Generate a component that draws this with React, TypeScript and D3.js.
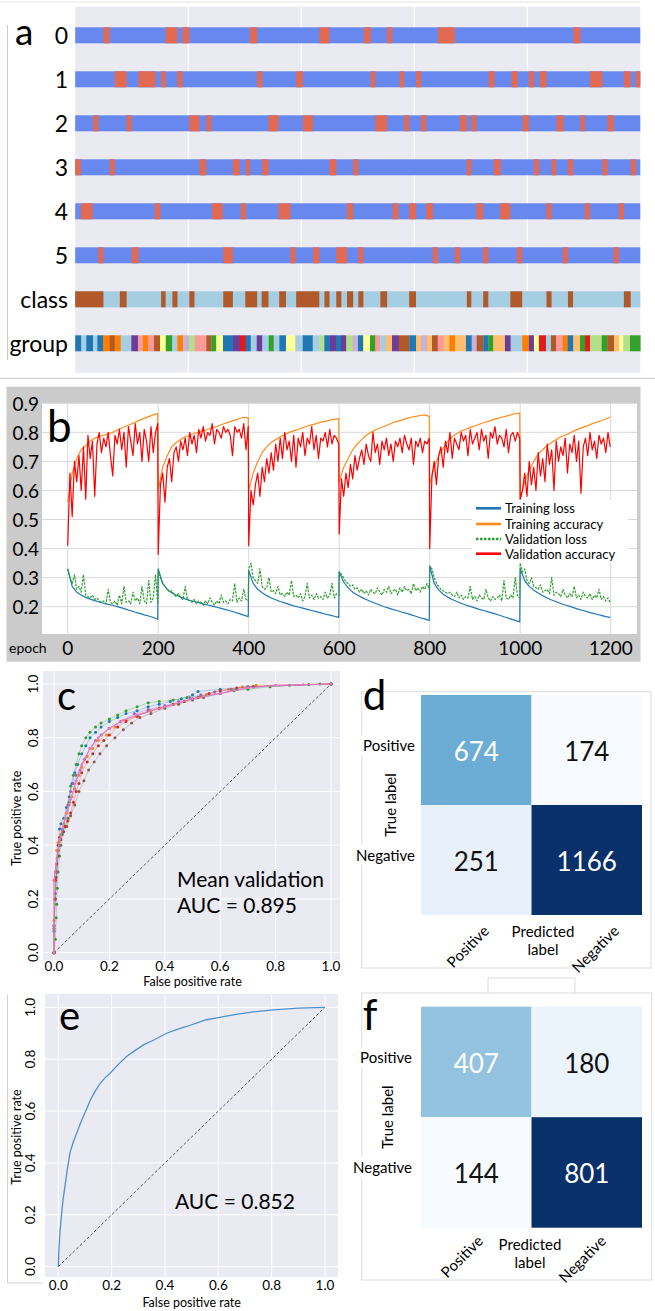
import * as d3 from 'd3'

const FONT = 'Lato, "Open Sans", sans-serif'

// ---------- panel a : CV split indices over samples (0..1000) ----------
const cvRowLabels = ['0', '1', '2', '3', '4', '5', 'class', 'group']
const testSplits = [
  [[50, 61], [160, 181], [190, 202], [309, 322], [432, 450], [511, 523], [552, 561], [642, 672], [882, 894]],
  [[70, 91], [112, 142], [152, 160], [181, 190], [322, 331], [391, 403], [523, 531], [574, 582], [603, 612], [732, 742], [772, 783], [803, 812], [822, 834], [911, 933], [971, 983], [992, 1000]],
  [[32, 41], [91, 100], [202, 220], [232, 241], [342, 360], [403, 421], [531, 552], [582, 591], [612, 621], [681, 693], [701, 710], [792, 803], [852, 864], [894, 902], [942, 953]],
  [[0, 10], [61, 70], [220, 232], [279, 291], [302, 309], [331, 342], [450, 462], [492, 501], [693, 701], [741, 753], [812, 821], [843, 851], [872, 881], [933, 942], [983, 992]],
  [[10, 31], [141, 151], [242, 261], [293, 302], [360, 381], [481, 492], [562, 572], [591, 603], [621, 633], [710, 722], [752, 770], [834, 843], [902, 911], [962, 971]],
  [[41, 50], [100, 112], [262, 279], [381, 390], [421, 432], [462, 481], [501, 510], [633, 642], [672, 681], [722, 731], [782, 791], [863, 872], [953, 962]],
]
const classOne = [[0, 50], [79, 91], [152, 160], [172, 181], [202, 211], [262, 279], [301, 322], [330, 342], [361, 373], [391, 432], [441, 450], [462, 471], [481, 492], [501, 510], [540, 552], [591, 603], [693, 701], [722, 731], [770, 791], [834, 843], [872, 881], [971, 983]]
const groupStarts = [0, 10.8, 19.6, 31.5, 39.1, 49.2, 61.1, 69.9, 80.5, 99.3, 111.1, 120, 128.8, 139.4, 150.1, 160.2, 171.8, 180.7, 190.8, 201.4, 211.5, 232, 240.8, 249.7, 261.5, 279.2, 291.1, 301.7, 310.6, 321.2, 331.1, 342.4, 351.3, 361.2, 373, 389.5, 402.6, 420.3, 432, 440.8, 450.9, 461.5, 470.4, 479.7, 491.1, 500.4, 509.8, 521.7, 531.1, 539.9, 550, 560.6, 572.5, 591.2, 603.1, 611.9, 622.5, 631.4, 641.5, 652.1, 662, 672.1, 691.5, 701.6, 710.5, 722.1, 731, 739.8, 760.5, 770.6, 791.1, 803, 811.8, 820.7, 833.1, 841.9, 850.8, 862.7, 871.5, 881.4, 893.3, 902.1, 911, 931.7, 941.6, 953.4, 962.3, 969.9, 981.8]
const groupColors = ['db', 'lb', 'db', 'lb', 'db', 'o', 'br', 'o', 'lb', 'pu', 'pk', 'o', 'pk', 'br', 'y', 'g', 'lb', 'o', 'lv', 'lg', 'pk', 'br', 'g', 'y', 'db', 'pu', 'r', 'db', 'lb', 'pu', 'lb', 'g', 'lb', 'db', 'y', 'lb', 'db', 'lb', 'lg', 'db', 'pu', 'db', 'pu', 'lg', 'lv', 'db', 'y', 'g', 'pk', 'lb', 'lo', 'pu', 'br', 'db', 'lo', 'lv', 'lo', 'br', 'pk', 'lo', 'o', 'lo', 'db', 'lv', 'br', 'db', 'g', 'lo', 'pu', 'lb', 'o', 'pu', 'y', 'r', 'lb', 'br', 'pk', 'o', 'db', 'lo', 'g', 'r', 'lg', 'g', 'br', 'lo', 'y', 'lg', 'g']
const paired: Record<string, string> = {
  lb: '#a6cee3', db: '#1f78b4', lg: '#b2df8a', g: '#33a02c', pk: '#fb9a99', r: '#e31a1c',
  lo: '#fdbf6f', o: '#ff7f00', lv: '#cab2d6', pu: '#6a3d9a', y: '#ffff99', br: '#b15928',
}

// ---------- panel b : training curves, 6 folds x 200 epochs ----------
const epochTicks = [0, 200, 400, 600, 800, 1000, 1200]
const metricTicks = [0.2, 0.3, 0.4, 0.5, 0.6, 0.7, 0.8, 0.9]
const trainAcc = [
  [0.56, 0.66, 0.71, 0.74, 0.755, 0.77, 0.78, 0.785, 0.79, 0.795, 0.8, 0.808, 0.815, 0.822, 0.828, 0.835, 0.842, 0.848, 0.854, 0.86, 0.865],
  [0.6, 0.68, 0.72, 0.75, 0.765, 0.775, 0.785, 0.79, 0.797, 0.8, 0.805, 0.81, 0.815, 0.82, 0.826, 0.832, 0.837, 0.842, 0.847, 0.852, 0.85],
  [0.6, 0.66, 0.7, 0.73, 0.75, 0.765, 0.775, 0.785, 0.792, 0.8, 0.805, 0.81, 0.816, 0.822, 0.826, 0.83, 0.835, 0.838, 0.842, 0.845, 0.847],
  [0.63, 0.68, 0.71, 0.74, 0.76, 0.775, 0.79, 0.8, 0.808, 0.815, 0.82, 0.827, 0.834, 0.838, 0.843, 0.848, 0.852, 0.855, 0.858, 0.86, 0.855],
  [0.62, 0.68, 0.72, 0.745, 0.77, 0.785, 0.795, 0.805, 0.81, 0.817, 0.822, 0.828, 0.833, 0.838, 0.843, 0.848, 0.852, 0.856, 0.86, 0.864, 0.866],
  [0.57, 0.63, 0.67, 0.7, 0.725, 0.74, 0.755, 0.765, 0.775, 0.785, 0.79, 0.798, 0.805, 0.812, 0.818, 0.823, 0.83, 0.835, 0.84, 0.846, 0.853],
]
const valAcc = [
  [0.41, 0.66, 0.51, 0.7, 0.63, 0.72, 0.6, 0.75, 0.57, 0.79, 0.71, 0.77, 0.58, 0.76, 0.8, 0.73, 0.78, 0.75, 0.8, 0.72, 0.65, 0.79, 0.76, 0.81, 0.74, 0.8, 0.68, 0.82, 0.77, 0.72, 0.83, 0.76, 0.8, 0.7, 0.81, 0.77, 0.7, 0.82, 0.73, 0.8, 0.83],
  [0.38, 0.62, 0.66, 0.56, 0.68, 0.71, 0.63, 0.73, 0.75, 0.7, 0.77, 0.74, 0.78, 0.72, 0.8, 0.76, 0.79, 0.73, 0.81, 0.78, 0.82, 0.77, 0.8, 0.79, 0.83, 0.76, 0.81, 0.8, 0.78, 0.82, 0.8, 0.81, 0.79, 0.72, 0.82, 0.8, 0.81, 0.78, 0.83, 0.74, 0.82],
  [0.41, 0.6, 0.55, 0.62, 0.66, 0.58, 0.68, 0.63, 0.71, 0.66, 0.73, 0.67, 0.76, 0.7, 0.78, 0.71, 0.8, 0.74, 0.77, 0.7, 0.79, 0.68, 0.78, 0.75, 0.8, 0.72, 0.78, 0.76, 0.82, 0.74, 0.79, 0.71, 0.78, 0.77, 0.8, 0.75, 0.81, 0.76, 0.79, 0.78, 0.76],
  [0.45, 0.64, 0.58, 0.66, 0.61, 0.69, 0.64, 0.72, 0.67, 0.71, 0.74, 0.69, 0.76, 0.72, 0.7, 0.8, 0.73, 0.76, 0.69, 0.77, 0.74, 0.78, 0.72, 0.76, 0.7, 0.77, 0.75, 0.78, 0.73, 0.79, 0.76, 0.74, 0.78, 0.69, 0.77, 0.75, 0.78, 0.73, 0.77, 0.76, 0.78],
  [0.4, 0.65, 0.7, 0.62, 0.72, 0.75, 0.68, 0.77, 0.73, 0.8, 0.71, 0.78, 0.76, 0.74, 0.8, 0.77, 0.79, 0.72, 0.81, 0.76, 0.78, 0.8, 0.74, 0.81, 0.77, 0.79, 0.71, 0.8, 0.78, 0.82, 0.76, 0.79, 0.78, 0.75, 0.81, 0.73, 0.79, 0.8, 0.77, 0.8, 0.78],
  [0.57, 0.6, 0.66, 0.58, 0.7, 0.62, 0.68, 0.6, 0.73, 0.65, 0.71, 0.63, 0.76, 0.69, 0.74, 0.6, 0.77, 0.7, 0.75, 0.72, 0.78, 0.66, 0.76, 0.73, 0.79, 0.7, 0.77, 0.59, 0.75, 0.78, 0.72, 0.8, 0.74, 0.77, 0.71, 0.79, 0.76, 0.78, 0.73, 0.8, 0.75],
]
const trainLoss = [
  [0.33, 0.27, 0.25, 0.24, 0.232, 0.226, 0.221, 0.216, 0.212, 0.208, 0.205, 0.2, 0.196, 0.191, 0.186, 0.181, 0.177, 0.172, 0.168, 0.163, 0.157],
  [0.33, 0.28, 0.26, 0.248, 0.24, 0.233, 0.227, 0.222, 0.218, 0.214, 0.21, 0.206, 0.202, 0.198, 0.194, 0.19, 0.186, 0.181, 0.176, 0.171, 0.166],
  [0.325, 0.28, 0.26, 0.248, 0.238, 0.23, 0.224, 0.218, 0.213, 0.208, 0.203, 0.199, 0.195, 0.191, 0.187, 0.183, 0.179, 0.175, 0.171, 0.167, 0.163],
  [0.32, 0.285, 0.265, 0.25, 0.24, 0.232, 0.225, 0.218, 0.212, 0.206, 0.2, 0.195, 0.19, 0.186, 0.181, 0.177, 0.172, 0.167, 0.162, 0.158, 0.153],
  [0.34, 0.28, 0.258, 0.243, 0.233, 0.225, 0.218, 0.212, 0.206, 0.201, 0.196, 0.191, 0.187, 0.182, 0.178, 0.173, 0.168, 0.163, 0.158, 0.153, 0.148],
  [0.33, 0.29, 0.27, 0.257, 0.247, 0.238, 0.23, 0.223, 0.217, 0.211, 0.206, 0.201, 0.196, 0.191, 0.187, 0.182, 0.178, 0.174, 0.17, 0.166, 0.163],
]
const valLoss = [
  [0.33, 0.3, 0.28, 0.31, 0.26, 0.27, 0.25, 0.31, 0.24, 0.235, 0.23, 0.24, 0.225, 0.23, 0.22, 0.215, 0.22, 0.21, 0.26, 0.215, 0.21, 0.22, 0.205, 0.24, 0.21, 0.27, 0.215, 0.22, 0.21, 0.25, 0.22, 0.23, 0.21, 0.27, 0.22, 0.21, 0.29, 0.215, 0.23, 0.31, 0.21],
  [0.32, 0.3, 0.28, 0.27, 0.26, 0.25, 0.255, 0.24, 0.235, 0.245, 0.23, 0.225, 0.27, 0.225, 0.22, 0.215, 0.225, 0.21, 0.22, 0.215, 0.205, 0.22, 0.21, 0.23, 0.215, 0.205, 0.22, 0.21, 0.24, 0.215, 0.22, 0.21, 0.225, 0.22, 0.28, 0.215, 0.23, 0.22, 0.26, 0.225, 0.22],
  [0.33, 0.35, 0.3, 0.29, 0.28, 0.33, 0.27, 0.26, 0.265, 0.3, 0.25, 0.255, 0.245, 0.27, 0.24, 0.245, 0.235, 0.25, 0.24, 0.29, 0.235, 0.24, 0.23, 0.245, 0.22, 0.235, 0.28, 0.23, 0.24, 0.225, 0.245, 0.23, 0.235, 0.225, 0.25, 0.23, 0.24, 0.28, 0.23, 0.245, 0.24],
  [0.32, 0.31, 0.3, 0.285, 0.28, 0.27, 0.275, 0.26, 0.265, 0.25, 0.26, 0.245, 0.255, 0.24, 0.26, 0.25, 0.245, 0.265, 0.25, 0.24, 0.26, 0.25, 0.27, 0.245, 0.255, 0.26, 0.24, 0.265, 0.25, 0.27, 0.255, 0.26, 0.245, 0.28, 0.255, 0.265, 0.25, 0.27, 0.26, 0.28, 0.26],
  [0.34, 0.33, 0.3, 0.28, 0.27, 0.26, 0.255, 0.25, 0.245, 0.25, 0.24, 0.235, 0.25, 0.23, 0.24, 0.225, 0.235, 0.23, 0.27, 0.225, 0.235, 0.22, 0.24, 0.23, 0.225, 0.26, 0.23, 0.22, 0.235, 0.225, 0.23, 0.24, 0.22, 0.29, 0.23, 0.225, 0.24, 0.23, 0.3, 0.235, 0.23],
  [0.35, 0.32, 0.33, 0.29, 0.28, 0.3, 0.27, 0.265, 0.26, 0.275, 0.25, 0.255, 0.26, 0.245, 0.3, 0.24, 0.25, 0.245, 0.235, 0.26, 0.24, 0.23, 0.245, 0.235, 0.27, 0.23, 0.24, 0.225, 0.25, 0.235, 0.23, 0.245, 0.225, 0.24, 0.23, 0.26, 0.225, 0.235, 0.22, 0.23, 0.215],
]
const curveLegend = ['Training loss', 'Training accuracy', 'Validation loss', 'Validation accuracy']
const curveColors = ['#1f77b4', '#ff8c1a', '#2ca02c', '#ff0000']

// ---------- panel c / e : ROC ----------
const rateTicks = [0, 0.2, 0.4, 0.6, 0.8, 1.0]
const rocFolds: number[][][] = [
  [[0, 0], [0, 0.08], [0.005, 0.2], [0.01, 0.3], [0.015, 0.38], [0.02, 0.46], [0.025, 0.48], [0.035, 0.5], [0.045, 0.54], [0.055, 0.58], [0.065, 0.63], [0.075, 0.67], [0.085, 0.7], [0.1, 0.74], [0.115, 0.77], [0.13, 0.8], [0.15, 0.82], [0.17, 0.84], [0.2, 0.86], [0.23, 0.875], [0.26, 0.89], [0.3, 0.9], [0.34, 0.915], [0.38, 0.925], [0.42, 0.935], [0.46, 0.945], [0.5, 0.96], [0.52, 0.972], [0.6, 0.98], [0.7, 0.99], [1, 1]],
  [[0, 0], [0, 0.12], [0, 0.27], [0.005, 0.3], [0.01, 0.38], [0.015, 0.41], [0.025, 0.44], [0.035, 0.48], [0.045, 0.52], [0.055, 0.55], [0.065, 0.58], [0.075, 0.61], [0.09, 0.66], [0.1, 0.69], [0.12, 0.73], [0.14, 0.76], [0.16, 0.79], [0.19, 0.81], [0.22, 0.84], [0.26, 0.865], [0.3, 0.88], [0.35, 0.9], [0.4, 0.915], [0.45, 0.93], [0.5, 0.945], [0.55, 0.96], [0.58, 0.97], [0.63, 0.98], [0.68, 0.99], [0.73, 0.995], [1, 1]],
  [[0, 0], [0.005, 0.05], [0.008, 0.13], [0.01, 0.18], [0.012, 0.24], [0.015, 0.3], [0.02, 0.36], [0.025, 0.4], [0.03, 0.44], [0.04, 0.47], [0.05, 0.5], [0.055, 0.56], [0.06, 0.62], [0.07, 0.66], [0.08, 0.7], [0.09, 0.74], [0.1, 0.77], [0.115, 0.8], [0.13, 0.82], [0.15, 0.84], [0.17, 0.855], [0.2, 0.87], [0.23, 0.885], [0.26, 0.9], [0.3, 0.915], [0.34, 0.93], [0.38, 0.935], [0.43, 0.94], [0.48, 0.95], [0.53, 0.955], [0.6, 0.965], [0.65, 0.975], [0.7, 0.98], [0.78, 0.99], [0.85, 0.995], [0.92, 0.998], [0.96, 1], [1, 1]],
  [[0, 0], [0, 0.1], [0.003, 0.2], [0.006, 0.27], [0.01, 0.33], [0.015, 0.4], [0.02, 0.43], [0.03, 0.45], [0.04, 0.47], [0.05, 0.49], [0.06, 0.52], [0.07, 0.56], [0.08, 0.6], [0.09, 0.63], [0.1, 0.67], [0.12, 0.71], [0.14, 0.74], [0.16, 0.77], [0.18, 0.79], [0.2, 0.81], [0.23, 0.84], [0.26, 0.86], [0.3, 0.88], [0.34, 0.9], [0.38, 0.91], [0.43, 0.925], [0.47, 0.935], [0.52, 0.95], [0.56, 0.965], [0.6, 0.975], [0.66, 0.985], [0.72, 0.99], [1, 1]],
  [[0, 0], [0, 0.1], [0.005, 0.22], [0.01, 0.3], [0.02, 0.4], [0.03, 0.46], [0.04, 0.5], [0.05, 0.55], [0.06, 0.6], [0.07, 0.63], [0.08, 0.66], [0.094, 0.68], [0.11, 0.72], [0.13, 0.76], [0.15, 0.79], [0.17, 0.81], [0.2, 0.835], [0.24, 0.86], [0.29, 0.89], [0.34, 0.905], [0.4, 0.92], [0.45, 0.935], [0.49, 0.95], [0.53, 0.96], [0.58, 0.97], [0.64, 0.98], [0.7, 0.99], [1, 1]],
  [[0, 0], [0, 0.09], [0.004, 0.2], [0.008, 0.28], [0.015, 0.36], [0.025, 0.42], [0.035, 0.45], [0.046, 0.47], [0.06, 0.51], [0.075, 0.55], [0.09, 0.6], [0.108, 0.64], [0.125, 0.68], [0.145, 0.71], [0.166, 0.74], [0.19, 0.77], [0.22, 0.8], [0.25, 0.83], [0.28, 0.855], [0.31, 0.875], [0.35, 0.89], [0.4, 0.91], [0.45, 0.925], [0.5, 0.94], [0.54, 0.95], [0.6, 0.965], [0.66, 0.98], [0.72, 0.99], [1, 1]],
]
const rocMean = [[0, 0], [0, 0.27], [0.01, 0.35], [0.02, 0.42], [0.04, 0.5], [0.06, 0.57], [0.08, 0.64], [0.1, 0.7], [0.13, 0.76], [0.16, 0.8], [0.2, 0.835], [0.25, 0.865], [0.3, 0.885], [0.4, 0.915], [0.5, 0.945], [0.6, 0.965], [0.7, 0.985], [0.8, 0.995], [0.9, 0.998], [1, 1]]
const rocFoldColors = ['#1f77b4', '#ff7f0e', '#2ca02c', '#d62728', '#9467bd', '#8c564b']
const rocTest = [[0, 0], [0.002, 0.06], [0.006, 0.13], [0.012, 0.2], [0.018, 0.26], [0.025, 0.31], [0.033, 0.37], [0.044, 0.44], [0.056, 0.48], [0.069, 0.515], [0.082, 0.55], [0.094, 0.58], [0.107, 0.61], [0.119, 0.64], [0.137, 0.675], [0.156, 0.705], [0.175, 0.728], [0.194, 0.746], [0.225, 0.78], [0.256, 0.81], [0.29, 0.835], [0.319, 0.855], [0.36, 0.875], [0.406, 0.9], [0.44, 0.913], [0.481, 0.926], [0.52, 0.94], [0.556, 0.952], [0.6, 0.96], [0.656, 0.971], [0.73, 0.982], [0.806, 0.99], [0.9, 0.997], [1, 1]]

// ---------- panel d / f : confusion matrices ----------
const cmLabels = ['Positive', 'Negative']
const cmValidation = [[674, 174], [251, 1166]]
const cmTest = [[407, 180], [144, 801]]

const fmt1 = d3.format('.1f')

function PanelA() {
  const x = d3.scaleLinear().domain([0, 1000]).range([75.2, 640.3])
  const y = d3.scalePoint<string>().domain(cvRowLabels).range([35.3, 343.3])
  const bh = 16
  const blue = '#6788ee'
  const red = '#e26952'
  const rows: { label: string; base: string; hi: string; segs: number[][] }[] = [
    ...testSplits.map((segs, i) => ({ label: String(i), base: blue, hi: red, segs })),
    { label: 'class', base: paired.lb, hi: paired.br, segs: classOne },
  ]
  return (
    <g>
      <line x1={0} x2={640} y1={2} y2={2} stroke="#e6e6e6" />
      <rect x={x(0)} y={6.7} width={x(1000) - x(0)} height={366} fill="#eaeaf2" />
      {[200, 400, 600, 800].map(t => (
        <line key={t} x1={x(t)} x2={x(t)} y1={6.7} y2={372.7} stroke="#fff" strokeWidth={1.2} />
      ))}
      <line x1={7.5} x2={7.5} y1={25} y2={360} stroke="#c8c8c8" />
      <text x={15} y={45} fontSize={37} fontFamily={FONT}>a</text>
      {rows.map(r => (
        <g key={r.label}>
          <rect x={x(0)} y={y(r.label)! - bh / 2} width={x(1000) - x(0)} height={bh} fill={r.base} />
          {r.segs.map(([a, b], j) => (
            <rect key={j} x={x(a)} y={y(r.label)! - bh / 2} width={x(b) - x(a)} height={bh} fill={r.hi} />
          ))}
        </g>
      ))}
      {groupStarts.map((s, i) => {
        const e = i < groupStarts.length - 1 ? groupStarts[i + 1] : 1000
        return (
          <rect key={i} x={x(s)} y={y('group')! - bh / 2} width={x(e) - x(s) + 0.3} height={bh} fill={paired[groupColors[i]]} />
        )
      })}
      {cvRowLabels.map(l => (
        <text key={l} x={68} y={y(l)} textAnchor="end" dominantBaseline="central" fontSize={23} fontFamily={FONT}>{l}</text>
      ))}
      <line x1={0} x2={655} y1={378.3} y2={378.3} stroke="#c8c8c8" />
    </g>
  )
}

function PanelB() {
  const x = d3.scaleLinear().domain([0, 1200]).range([67.7, 610.7])
  const y = d3.scaleLinear().domain([0.2, 0.9]).range([606.7, 403.3])
  const pl = 42, pr = 637, pt = 403.3, pb = 634
  const toSeries = (folds: number[][]) =>
    folds.flatMap((f, k) => f.map((v, i) => [k * 200 + (i * 199) / (f.length - 1), v] as [number, number]))
  const line = d3.line<[number, number]>().x(d => x(d[0])).y(d => y(d[1]))
  const series = [trainLoss, trainAcc, valLoss, valAcc]
  const ly = [508.3, 524, 539, 553.7]
  return (
    <g>
      <rect x={6.5} y={386.7} width={634} height={275} fill="#cbcbcb" />
      <rect x={pl} y={pt} width={pr - pl} height={pb - pt} fill="#fff" />
      {metricTicks.map(t => (
        <line key={t} x1={pl} x2={pr} y1={y(t)} y2={y(t)} stroke="#d9d9d9" />
      ))}
      {epochTicks.map(t => (
        <line key={t} x1={x(t)} x2={x(t)} y1={pt} y2={pb} stroke="#d9d9d9" />
      ))}
      <defs>
        <clipPath id="clipB"><rect x={pl} y={pt} width={pr - pl} height={pb - pt} /></clipPath>
      </defs>
      <g clipPath="url(#clipB)">
        {series.map((s, i) => (
          <path key={i} d={line(toSeries(s))!} fill="none" stroke={curveColors[i]} strokeWidth={1.2}
            strokeDasharray={i === 2 ? '2.5,1.2' : undefined} strokeLinejoin="round" />
        ))}
      </g>
      <rect x={472} y={500} width={156} height={62} fill="#fff" />
      {curveLegend.map((l, i) => (
        <g key={l}>
          <line x1={476} x2={501} y1={ly[i]} y2={ly[i]} stroke={curveColors[i]} strokeWidth={2.6}
            strokeDasharray={i === 2 ? '2.5,1.5' : undefined} />
          <text x={505} y={ly[i]} dominantBaseline="central" fontSize={13} fontFamily={FONT}>{l}</text>
        </g>
      ))}
      {metricTicks.map(t => (
        <text key={t} x={39} y={y(t)} textAnchor="end" dominantBaseline="central" fontSize={19} fontFamily={FONT}>{fmt1(t)}</text>
      ))}
      {epochTicks.map(t => (
        <text key={t} x={x(t)} y={655} textAnchor="middle" fontSize={19} fontFamily={FONT}>{t}</text>
      ))}
      <text x={9} y={653} fontSize={14} fontFamily={FONT}>epoch</text>
      <text x={47} y={442} fontSize={44} fontFamily={FONT}>b</text>
    </g>
  )
}

function RocPanel(props: {
  xr: [number, number]; yr: [number, number]; bg: [number, number, number, number]
  letter: string; letterPos: [number, number]; tickY: number; xlabY: number; yTickX: number; ylabX: number
  children: (x: d3.ScaleLinear<number, number>, y: d3.ScaleLinear<number, number>) => any
}) {
  const x = d3.scaleLinear().domain([0, 1]).range(props.xr)
  const y = d3.scaleLinear().domain([0, 1]).range(props.yr)
  const [bx0, by0, bx1, by1] = props.bg
  return (
    <g>
      <rect x={bx0} y={by0} width={bx1 - bx0} height={by1 - by0} fill="#eaeaf2" />
      {rateTicks.map(t => (
        <g key={t}>
          <line x1={x(t)} x2={x(t)} y1={by0} y2={by1} stroke="#fff" strokeWidth={1} />
          <line x1={bx0} x2={bx1} y1={y(t)} y2={y(t)} stroke="#fff" strokeWidth={1} />
        </g>
      ))}
      <line x1={x(0)} y1={y(0)} x2={x(1)} y2={y(1)} stroke="#333" strokeWidth={0.8} strokeDasharray="3,2" />
      {props.children(x, y)}
      {rateTicks.map(t => (
        <text key={t} x={x(t)} y={props.tickY} textAnchor="middle" fontSize={13.5} fontFamily={FONT}>{fmt1(t)}</text>
      ))}
      {rateTicks.map(t => (
        <text key={t} transform={`translate(${props.yTickX},${y(t)}) rotate(-90)`} textAnchor="middle"
          dominantBaseline="central" fontSize={13.5} fontFamily={FONT}>{fmt1(t)}</text>
      ))}
      <text x={(x(0) + x(1)) / 2} y={props.xlabY} textAnchor="middle" fontSize={12.5} fontFamily={FONT}>False positive rate</text>
      <text transform={`translate(${props.ylabX},${y(0.5)}) rotate(-90)`} textAnchor="middle"
        dominantBaseline="central" fontSize={12.5} fontFamily={FONT}>True positive rate</text>
      <text x={props.letterPos[0]} y={props.letterPos[1]} fontSize={40} fontFamily={FONT}>{props.letter}</text>
    </g>
  )
}

function ConfMatrix(props: {
  values: number[][]; xr: [number, number]; yr: [number, number]; frame: [number, number, number, number]
  letter: string; letterY: number; rowLabX: number; trueX: number; rotEnds: [number, number][]
  predX: number; predY: number
}) {
  const vals = props.values.flat()
  const lo = d3.min(vals)!, hi = d3.max(vals)!
  const color = d3.scaleSequential(d3.interpolateBlues).domain([lo, hi])
  const x = d3.scaleBand<string>().domain(cmLabels).range(props.xr)
  const y = d3.scaleBand<string>().domain(cmLabels).range(props.yr)
  const [fx0, fy0, fx1, fy1] = props.frame
  return (
    <g>
      <rect x={fx0} y={fy0} width={fx1 - fx0} height={fy1 - fy0} fill="#fff" stroke="#dcdcdc" strokeWidth={1} />
      {props.values.map((row, i) => row.map((v, j) => {
        const t = (v - lo) / (hi - lo)
        return (
          <g key={`${i}-${j}`}>
            <rect x={x(cmLabels[j])} y={y(cmLabels[i])} width={x.bandwidth()} height={y.bandwidth()} fill={color(v)} />
            <text x={x(cmLabels[j])! + x.bandwidth() / 2} y={y(cmLabels[i])! + y.bandwidth() / 2 + 1}
              textAnchor="middle" dominantBaseline="central" fontSize={26} fontFamily={FONT}
              fill={t > 0.3 ? '#fff' : '#111'}>{v}</text>
          </g>
        )
      }))}
      {cmLabels.map(l => (
        <g key={l}>
          <rect x={props.rowLabX - 62} y={y(l)! + y.bandwidth() / 2 - 15} width={64} height={20} fill="#fff" />
          <text x={props.rowLabX} y={y(l)! + y.bandwidth() / 2 - 5} textAnchor="end" dominantBaseline="central"
            fontSize={15} fontFamily={FONT}>{l}</text>
        </g>
      ))}
      <text transform={`translate(${props.trueX},${(props.yr[0] + props.yr[1]) / 2}) rotate(-90)`} textAnchor="middle"
        dominantBaseline="central" fontSize={15} fontFamily={FONT}>True label</text>
      {cmLabels.map((l, j) => (
        <text key={l} transform={`translate(${props.rotEnds[j][0]},${props.rotEnds[j][1]}) rotate(-45)`} textAnchor="end"
          fontSize={15} fontFamily={FONT}>{l}</text>
      ))}
      <text x={props.predX} y={props.predY} textAnchor="middle" fontSize={15} fontFamily={FONT}>Predicted</text>
      <text x={props.predX} y={props.predY + 18} textAnchor="middle" fontSize={15} fontFamily={FONT}>label</text>
      <text x={fx0 + 1} y={props.letterY} fontSize={42} fontFamily={FONT}>{props.letter}</text>
    </g>
  )
}

export default function App() {
  const rocLine = (x: d3.ScaleLinear<number, number>, y: d3.ScaleLinear<number, number>) =>
    d3.line<number[]>().x(d => x(d[0])).y(d => y(d[1]))
  return (
    <div style={{ position: 'absolute', left: 0, top: 0 }}>
      <svg width={655} height={1311} style={{ display: 'block', background: '#fff' }}>
        <PanelA />
        <PanelB />
        <RocPanel xr={[54, 331]} yr={[952.7, 684]} bg={[43, 671, 340, 960]} letter="c" letterPos={[57, 710]}
          tickY={971} xlabY={986} yTickX={33} ylabX={16}>
          {(x, y) => (
            <g>
              {rocFolds.map((f, i) => (
                <g key={i}>
                  <path d={rocLine(x, y)(f)!} fill="none" stroke={rocFoldColors[i]} strokeWidth={0.5} opacity={0.6} />
                  {f.map((p, j) => (
                    <circle key={j} cx={x(p[0])} cy={y(p[1])} r={1.5} fill={rocFoldColors[i]} />
                  ))}
                </g>
              ))}
              <path d={rocLine(x, y)(rocMean)!} fill="none" stroke="#e377c2" strokeWidth={1.2} />
              {rocMean.map((p, j) => (
                <circle key={j} cx={x(p[0])} cy={y(p[1])} r={1.3} fill="#e377c2" />
              ))}
              <text x={177} y={887} fontSize={21} fontFamily={FONT}>Mean validation</text>
              <text x={177} y={913} fontSize={21} fontFamily={FONT}>AUC = 0.895</text>
            </g>
          )}
        </RocPanel>
        <line x1={7.5} x2={7.5} y1={995} y2={1283} stroke="#d0d0d0" />
        <line x1={7.5} x2={43} y1={1283} y2={1283} stroke="#d0d0d0" />
        <RocPanel xr={[58.3, 325]} yr={[1266.7, 1007.3]} bg={[45, 994, 338, 1277]} letter="e" letterPos={[59, 1030]}
          tickY={1290} xlabY={1307} yTickX={30} ylabX={16}>
          {(x, y) => (
            <g>
              <path d={rocLine(x, y)(rocTest)!} fill="none" stroke="#4f91cf" strokeWidth={1.3} />
              <text x={175} y={1209} fontSize={21} fontFamily={FONT}>AUC = 0.852</text>
            </g>
          )}
        </RocPanel>
        <ConfMatrix values={cmValidation} xr={[421, 642]} yr={[695, 915]} frame={[361.7, 691.7, 651, 968]}
          letter="d" letterY={710} rowLabX={415} trueX={390} rotEnds={[[490, 932], [620, 932]]} predX={543} predY={937} />
        <rect x={488} y={978} width={87} height={20} fill="#fff" stroke="#dcdcdc" />
        <ConfMatrix values={cmTest} xr={[421, 642]} yr={[1006.7, 1227.7]} frame={[361.7, 993, 651.7, 1280]}
          letter="f" letterY={1030} rowLabX={412} trueX={386.5} rotEnds={[[484, 1242], [607, 1242]]} predX={530} predY={1250} />
      </svg>
    </div>
  )
}
